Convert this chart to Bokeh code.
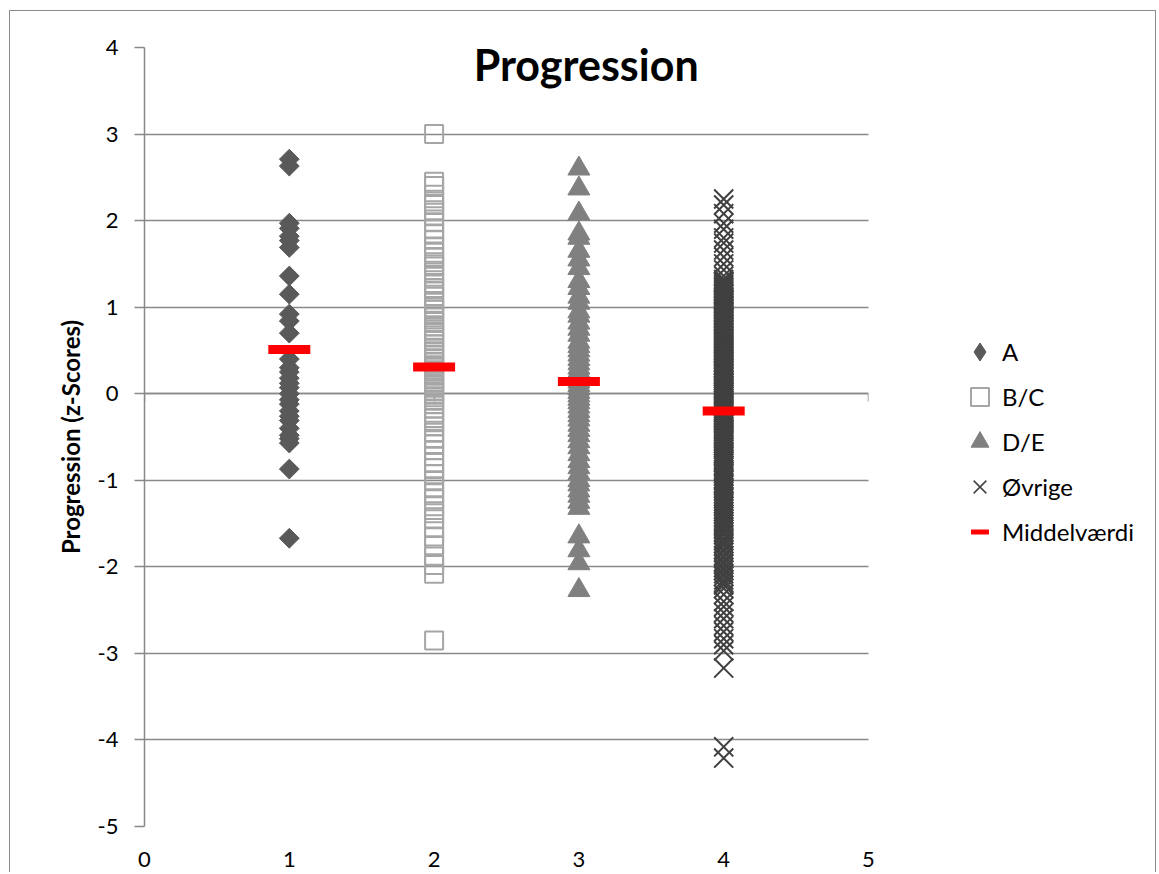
import numpy as np
from bokeh.plotting import figure
from bokeh.models import (LinearAxis, Legend, LegendItem, Label, FixedTicker, Range1d,
                          BoxAnnotation)
from bokeh.embed import file_html
from bokeh.resources import INLINE

# ---------------- data ----------------
categories = ["A", "B/C", "D/E", "Øvrige"]
cat_x = [1, 2, 3, 4]

a_vals = [2.71, 2.63, 1.97, 1.91, 1.82, 1.77, 1.69, 1.36, 1.15, 0.92, 0.84, 0.70,
          0.40, 0.30, 0.25, 0.18, 0.12, 0.07, 0.00, -0.07, -0.12, -0.20, -0.26,
          -0.31, -0.40, -0.48, -0.52, -0.57, -0.87, -1.67]

bc_vals = [3.00, 2.45, 2.40, 2.30, 2.22, 2.18, 2.12, 2.05, 1.98, 1.90, 1.85, 1.78,
           1.70, 1.63, 1.58, 1.52, 1.47, 1.40, 1.35, 1.28, 1.22, 1.18, 1.12, 1.05,
           1.00, 0.97, 0.92, 0.88, 0.83, 0.78, 0.74, 0.70, 0.65, 0.61, 0.57, 0.52,
           0.48, 0.45, 0.41, 0.37, 0.33, 0.30, 0.26, 0.22, 0.18, 0.14, 0.10, 0.07,
           0.03, 0.00, -0.04, -0.08, -0.12, -0.17, -0.22, -0.28, -0.33, -0.38,
           -0.45, -0.52, -0.58, -0.65, -0.72, -0.80, -0.86, -0.93, -1.00, -1.08,
           -1.15, -1.22, -1.30, -1.38, -1.45, -1.55, -1.65, -1.75, -1.88, -1.98,
           -2.08, -2.85]

de_vals = [2.60, 2.37, 2.08, 1.85, 1.80, 1.65, 1.55, 1.45, 1.30, 1.22, 1.12, 1.05,
           0.95, 0.90, 0.82, 0.75, 0.68, 0.60, 0.55, 0.50, 0.45, 0.40, 0.35, 0.30,
           0.26, 0.22, 0.18, 0.14, 0.10, 0.06, 0.02, -0.02, -0.06, -0.10, -0.15,
           -0.20, -0.25, -0.30, -0.36, -0.42, -0.48, -0.55, -0.62, -0.70, -0.78,
           -0.85, -0.92, -1.00, -1.05, -1.12, -1.18, -1.25, -1.32, -1.65, -1.81,
           -1.96, -2.27]

ovr_vals = [2.25, 2.18, 2.08, 1.97, 1.90, 1.80, 1.74, 1.66, 1.58, 1.50, 1.43, 1.36,
            1.32, 1.30, 1.29, 1.27, 1.25, 1.23, 1.21, 1.19, 1.18, 1.16, 1.15, 1.13,
            1.11, 1.09, 1.08, 1.06, 1.04, 1.02, 1.01, 0.99, 0.97, 0.95, 0.94, 0.92,
            0.90, 0.88, 0.87, 0.85, 0.84, 0.82, 0.80, 0.78, 0.77, 0.75, 0.73, 0.71,
            0.70, 0.68, 0.66, 0.64, 0.63, 0.61, 0.60, 0.58, 0.56, 0.54, 0.53, 0.51,
            0.49, 0.47, 0.46, 0.44, 0.43, 0.41, 0.39, 0.37, 0.36, 0.34, 0.32, 0.30,
            0.29, 0.27, 0.26, 0.24, 0.22, 0.20, 0.19, 0.17, 0.15, 0.13, 0.12, 0.10,
            0.09, 0.07, 0.05, 0.03, 0.02, 0.00, -0.01, -0.03, -0.05, -0.07, -0.08,
            -0.10, -0.12, -0.14, -0.15, -0.17, -0.19, -0.21, -0.22, -0.24, -0.26,
            -0.28, -0.29, -0.31, -0.33, -0.35, -0.38, -0.40, -0.42, -0.44, -0.46,
            -0.48, -0.50, -0.52, -0.54, -0.56, -0.58, -0.60, -0.62, -0.64, -0.67,
            -0.69, -0.71, -0.73, -0.76, -0.78, -0.80, -0.83, -0.85, -0.88, -0.90,
            -0.92, -0.95, -0.98, -1.00, -1.03, -1.05, -1.08, -1.10, -1.13, -1.16,
            -1.19, -1.21, -1.24, -1.27, -1.30, -1.33, -1.36, -1.39, -1.42, -1.45,
            -1.48, -1.51, -1.54, -1.57, -1.60, -1.63, -1.67, -1.70, -1.73, -1.76,
            -1.80, -1.83, -1.87, -1.90, -1.94, -1.97, -2.01, -2.04, -2.08, -2.11,
            -2.15, -2.18, -2.21, -2.25, -2.32, -2.40, -2.46, -2.53, -2.60, -2.68,
            -2.75, -2.83, -2.90, -2.97, -3.17, -4.08, -4.21]

mean_vals = [0.51, 0.31, 0.14, -0.20]

x_ticks = [0, 1, 2, 3, 4, 5]
y_ticks = [-5, -4, -3, -2, -1, 0, 1, 2, 3, 4]

title_text = "Progression"
y_label = "Progression (z-Scores)"
legend_labels = ["A", "B/C", "D/E", "Øvrige", "Middelværdi"]

# ---------------- layout / styling ----------------
FONT = "Lato"
GRID = "#898989"
FIG_W, FIG_H = 1147, 862
LEFT, TOP, BOTTOM = 134, 36, 47
PLOT_AREA_W = 724                      # pixel width of the 0..5 plot area
FRAME_W = FIG_W - LEFT                 # frame spans to the right edge (legend inside)
x_lo, x_hi = x_ticks[0], x_ticks[-1]
x_end = x_lo + (x_hi - x_lo) * FRAME_W / PLOT_AREA_W

p = figure(width=FIG_W, height=FIG_H, x_range=Range1d(x_lo, x_end),
           y_range=Range1d(y_ticks[0], y_ticks[-1]),
           output_backend="svg", toolbar_location=None,
           min_border_left=LEFT, min_border_right=0, min_border_top=TOP,
           min_border_bottom=BOTTOM)
p.margin = (10, 0, 0, 9)
p.styles = {"border-top": "1px solid #8a8a8a", "border-left": "1px solid #8a8a8a",
            "border-right": "1px solid #8a8a8a"}
p.outline_line_color = None
p.background_fill_color = "white"
p.border_fill_color = "white"

p.xgrid.visible = False
p.ygrid.ticker = FixedTicker(ticks=y_ticks)
p.ygrid.grid_line_color = GRID
p.ygrid.grid_line_width = 1.5

# mask the gridlines to the right of the plot area (legend region)
mask = BoxAnnotation(left=x_hi, fill_color="white", fill_alpha=1.0,
                     line_color=None, level="underlay")
p.add_layout(mask)

# y axis
p.yaxis.ticker = FixedTicker(ticks=y_ticks)
p.yaxis.major_label_overrides = {t: str(t) for t in y_ticks}
p.yaxis.axis_line_color = GRID
p.yaxis.axis_line_width = 1.5
p.yaxis.major_tick_line_color = GRID
p.yaxis.major_tick_line_width = 1.5
p.yaxis.major_tick_out = 10
p.yaxis.major_tick_in = 0
p.yaxis.minor_tick_line_color = None
p.yaxis.major_label_text_font = FONT
p.yaxis.major_label_text_font_size = "22px"
p.yaxis.major_label_text_color = "black"
p.yaxis.major_label_standoff = 16
p.yaxis.axis_label = y_label
p.yaxis.axis_label_text_font = FONT
p.yaxis.axis_label_text_font_size = "24px"
p.yaxis.axis_label_text_font_style = "bold"
p.yaxis.axis_label_text_color = "black"
p.yaxis.axis_label_standoff = 10

# x axis (labels only, at bottom)
p.xaxis.ticker = FixedTicker(ticks=x_ticks)
p.xaxis.axis_line_color = None
p.xaxis.major_tick_line_color = None
p.xaxis.minor_tick_line_color = None
p.xaxis.major_label_text_font = FONT
p.xaxis.major_label_text_font_size = "22px"
p.xaxis.major_label_text_color = "black"
p.xaxis.major_label_standoff = 19

# x axis line crossing at y = 0
x0_axis = LinearAxis(fixed_location=0, ticker=FixedTicker(ticks=x_ticks),
                     bounds=(x_lo, x_hi),
                     axis_line_color=GRID, axis_line_width=1.5,
                     major_tick_line_color=GRID, major_tick_line_width=1.5,
                     major_tick_out=8, major_tick_in=0,
                     minor_tick_line_color=None, major_label_text_color=None,
                     level="underlay")
p.add_layout(x0_axis, "below")

# ---------------- glyphs ----------------
r_a = p.scatter(x=[cat_x[0]] * len(a_vals), y=a_vals, marker="square",
                angle=np.pi / 4, size=14, fill_color="#595959", line_color="#595959")
r_bc = p.scatter(x=[cat_x[1]] * len(bc_vals), y=bc_vals, marker="square", size=18,
                 fill_alpha=0, line_color="#a6a6a6", line_width=2)
r_de = p.scatter(x=[cat_x[2]] * len(de_vals), y=de_vals, marker="triangle", size=22,
                 fill_color="#808080", line_color="#808080")
r_ov = p.scatter(x=[cat_x[3]] * len(ovr_vals), y=ovr_vals, marker="x", size=27,
                 line_color="#404040", line_width=2)
r_mean = p.scatter(x=cat_x, y=mean_vals, marker="dash", size=42,
                   line_color="#ff0000", line_width=9, line_cap="butt")

# legend-only proxies (not drawn in the plot: NaN position)
r_a_leg = p.scatter(x=[np.nan], y=[np.nan], marker="diamond", fill_color="#595959",
                    line_color="#595959")
r_ov_leg = p.scatter(x=[np.nan], y=[np.nan], marker="x", line_color="#404040",
                     line_width=1.5)
r_mean_leg = p.scatter(x=[np.nan], y=[np.nan], marker="dash", line_color="#ff0000",
                       line_width=5, line_cap="butt")

legend = Legend(items=[
    LegendItem(label=legend_labels[0], renderers=[r_a_leg]),
    LegendItem(label=legend_labels[1], renderers=[r_bc]),
    LegendItem(label=legend_labels[2], renderers=[r_de]),
    LegendItem(label=legend_labels[3], renderers=[r_ov_leg]),
    LegendItem(label=legend_labels[4], renderers=[r_mean_leg]),
], location=(813, 272), padding=0, margin=0, spacing=0,
    glyph_width=45, glyph_height=45, label_standoff=0,
    label_text_font=FONT, label_text_font_size="24px", label_text_color="black",
    border_line_color=None, background_fill_alpha=0)
p.add_layout(legend, "center")

title = Label(x=3.05, y=3.80, text=title_text, text_align="center",
              text_baseline="alphabetic", text_font=FONT, text_font_size="43px",
              text_font_style="bold", text_color="black")
p.add_layout(title)

open("out.html", "w").write(file_html(p, INLINE))
